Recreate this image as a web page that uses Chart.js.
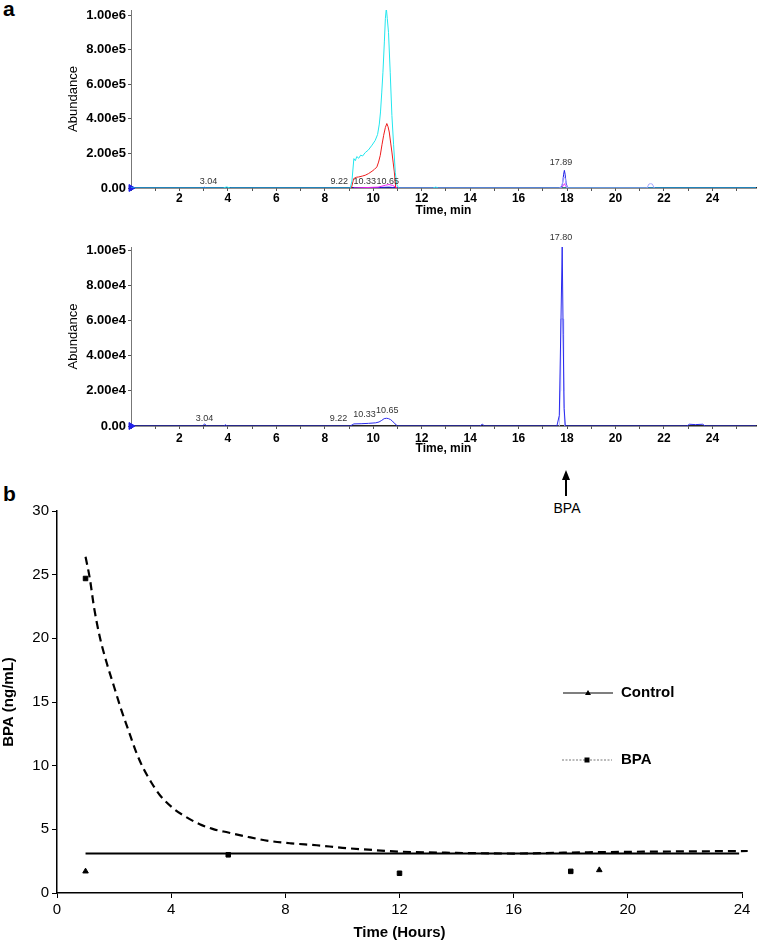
<!DOCTYPE html>
<html>
<head>
<meta charset="utf-8">
<script src="https://cdn.jsdelivr.net/npm/chart.js@4.4.1/dist/chart.umd.min.js"></script>
<style>
	body { margin: 0; background: #fff; width: 761px; height: 944px; position: relative; overflow: hidden; font-family: "Liberation Sans", Arial, sans-serif; }
	canvas { position: absolute; left: 0; }
	.panel { position: absolute; font-weight: bold; font-size: 21px; }
</style>
</head>
<body>
<div class="panel" style="left:3px; top:-3px;">a</div>
<div class="panel" style="left:3px; top:482px;">b</div>

<!-- arrow pointing at the BPA peak -->
<div style="position:absolute; left:562px; top:470px; width:0; height:0; border-left:4px solid transparent; border-right:4px solid transparent; border-bottom:10px solid #000;"></div>
<div style="position:absolute; left:565px; top:479px; width:2px; height:17px; background:#000;"></div>
<div style="position:absolute; left:538px; top:500px; width:58px; text-align:center; font-size:14px;">BPA</div>

<canvas id="chromTop" width="761" height="219" style="top:0px;"></canvas>
<canvas id="chromBottom" width="761" height="232" style="top:225px;"></canvas>
<canvas id="bpaChart" width="761" height="464" style="top:480px;"></canvas>

<script>
// ---- panel a, upper chromatogram (min / abundance) ----
const cyanTime = [0, 3.8, 3.95, 4.1, 9.05, 9.12, 9.2, 9.26, 9.32, 9.4, 9.48, 9.56, 9.67, 9.8, 9.95, 10.08, 10.18, 10.25, 10.3, 10.35, 10.4, 10.46, 10.5, 10.54, 10.58, 10.63, 10.7, 10.77, 10.84, 10.91, 10.97, 11.05, 12.45, 12.58, 12.7, 25.8];
const cyanAbund = [0, 0, 6e3, 0, 0, 4e4, 1.7e5, 1.58e5, 1.82e5, 1.72e5, 1.9e5, 1.85e5, 2.05e5, 2.2e5, 2.48e5, 2.75e5, 3.1e5, 3.7e5, 4.4e5, 5.5e5, 6.7e5, 8.5e5, 9.8e5, 1.04e6, 9.8e5, 9.0e5, 6.7e5, 4.2e5, 2.5e5, 9e4, 2e4, 0, 0, 5e3, 0, 0];

const redTime = [9.1, 9.19, 9.3, 9.4, 9.55, 9.67, 9.8, 9.95, 10.05, 10.15, 10.22, 10.29, 10.36, 10.43, 10.5, 10.56, 10.61, 10.66, 10.72, 10.77, 10.82, 10.87, 10.93];
const redAbund = [0, 5.4e4, 6.2e4, 6.4e4, 6.9e4, 7.4e4, 8.3e4, 9.7e4, 1.08e5, 1.22e5, 1.5e5, 1.89e5, 2.5e5, 3.05e5, 3.5e5, 3.73e5, 3.55e5, 3.24e5, 2.6e5, 2.08e5, 1.5e5, 9.3e4, 0];

const magentaTime = [9.2, 10.2, 10.5, 10.65, 10.8, 11.0, 17.75, 17.85, 17.89, 17.93, 18.0];
const magentaAbund = [0, 5e3, 1.6e4, 2e4, 1.5e4, 0, 0, 1.5e4, 2.5e4, 1.5e4, 0];

const lavenderTime = [17.7, 17.8, 17.84, 17.92, 17.96, 18.02, 21.3, 21.38, 21.45, 21.52, 21.6];
const lavenderAbund = [0, 2e4, 6e4, 6e4, 2e4, 0, 0, 2.3e4, 2.5e4, 2.3e4, 0];

const blueTopTime = [0, 2.95, 3.04, 3.12, 9.15, 9.22, 9.3, 10.3, 10.65, 11.0, 17.76, 17.82, 17.86, 17.89, 17.92, 17.96, 18.02, 25.8];
const blueTopAbund = [0, 0, 4e3, 0, 0, 3e3, 0, 3e3, 5e3, 0, 0, 3e4, 8e4, 1.02e5, 8e4, 3e4, 0, 0];

const topYTicks = [0, 2e5, 4e5, 6e5, 8e5, 1e6];
const topPeakText = ["3.04", "9.22", "10.33", "10.65", "17.89"];
const topPeakTime = [3.2, 8.6, 9.65, 10.6, 17.75];
const topPeakAbund = [1.3e4, 1.3e4, 1.3e4, 1.3e4, 1.2e5];

// ---- panel a, lower chromatogram ----
const blueLowTime = [0, 2.95, 3.04, 3.12, 3.85, 3.9, 3.95, 9.05, 9.2, 9.5, 9.8, 10.1, 10.24, 10.35, 10.45, 10.55, 10.63, 10.72, 10.79, 10.9, 11.0, 14.4, 14.5, 14.6, 17.58, 17.68, 17.75, 17.8, 17.84, 17.88, 17.93, 22.95, 23.05, 23.3, 23.6, 23.7, 25.8];
const blueLowAbund = [0, 0, 1.2e3, 0, 0, 8e2, 0, 0, 1.2e3, 1.3e3, 1.5e3, 1.8e3, 2.3e3, 3.2e3, 4.2e3, 4.4e3, 4.2e3, 3.6e3, 2.8e3, 1.2e3, 0, 0, 1e3, 0, 0, 6e3, 6.1e4, 1.02e5, 5.2e4, 1e4, 0, 0, 1e3, 8e2, 1e3, 0, 0];

const lightBlueTime = [17.68, 17.72, 17.74, 17.84, 17.86, 17.9];
const lightBlueAbund = [0, 2e4, 6.1e4, 6.1e4, 2e4, 0];

const lowYTicks = [0, 2e4, 4e4, 6e4, 8e4, 1e5];
const lowPeakText = ["3.04", "9.22", "10.33", "10.65", "17.80"];
const lowPeakTime = [3.03, 8.57, 9.64, 10.58, 17.75];
const lowPeakAbund = [1.5e3, 1.5e3, 4.1e3, 6.1e3, 1.05e5];

// ---- panel b ----
const bpaHours = [1, 6, 12, 18];
const bpaConc = [24.7, 3.0, 1.55, 1.7];
const controlHours = [1, 19];
const controlConc = [1.7, 1.8];
const bpaTrendHours = [1.0, 1.15, 1.3, 1.5, 1.75, 2.0, 2.25, 2.5, 2.75, 3.0, 3.3, 3.6, 4.1, 4.5, 5.0, 5.5, 6.0, 6.7, 7.4, 8.2, 9.1, 10.0, 10.9, 12, 14, 16, 18.6, 21, 24.2];
const bpaTrendConc = [26.4, 24.7, 22.4, 20.1, 18.0, 16.2, 14.4, 12.8, 11.2, 9.9, 8.7, 7.7, 6.6, 6.0, 5.4, 5.0, 4.75, 4.4, 4.1, 3.9, 3.75, 3.55, 3.4, 3.25, 3.15, 3.1, 3.2, 3.25, 3.3];
const controlTrendHours = [1, 23.9];
const controlTrendConc = [3.1, 3.1];

function toXY(xs, ys) {
	return xs.map((x, i) => ({ x: x, y: ys[i] }));
}

function trace(label, colour, xs, ys) {
	return {
		label: label,
		data: toXY(xs, ys),
		borderColor: colour,
		borderWidth: 1,
		pointRadius: 0,
		showLine: true,
		tension: 0,
	};
}

// little retention-time labels above the peaks
const peakLabels = {
	id: "peakLabels",
	afterDatasetsDraw(chart, args, opts) {
		if (!opts.text) return;
		const ctx = chart.ctx;
		ctx.save();
		ctx.font = "9px 'Liberation Sans', Arial";
		ctx.fillStyle = "#333";
		ctx.textAlign = "center";
		ctx.textBaseline = "bottom";
		opts.text.forEach((t, i) => {
			const px = chart.scales.x.getPixelForValue(opts.time[i]);
			const py = chart.scales.y.getPixelForValue(opts.abund[i]);
			ctx.fillText(t, px, py);
		});
		ctx.restore();
	},
};

function sciLabel(v) {
	if (v === 0) return "0.00";
	return v.toExponential(2).replace("e+", "e");
}

function createChromatogram(canvasElement, datasets, yMax, yTicks, labels, topPad, xAxisHeight, labelPad, titlePad) {
	return new Chart(canvasElement, {
		type: "scatter",
		data: { datasets: datasets },
		options: {
			responsive: false,
			animation: false,
			layout: { padding: { top: topPad, right: 3, left: 0, bottom: 0 } },
			plugins: {
				legend: { display: false },
				tooltip: { enabled: false },
				peakLabels: labels,
			},
			scales: {
				x: {
					type: "linear",
					min: 0,
					max: 25.8,
					afterFit: (scale) => { scale.height = xAxisHeight; },
					ticks: {
						stepSize: 1,
						autoSkip: false,
						includeBounds: false,
						maxRotation: 0,
						padding: labelPad,
						color: "#000",
						font: { family: "'Liberation Sans', Arial", size: 12, weight: "bold" },
						callback: (v) => (v > 0 && v % 2 === 0 ? v : ""),
					},
					grid: { drawOnChartArea: false, tickLength: 3, color: "#555" },
					border: { color: "#222", width: 1.5 },
					title: {
						display: true,
						text: "Time, min",
						color: "#000",
						padding: { top: 0, bottom: titlePad },
						font: { family: "'Liberation Sans', Arial", size: 12, weight: "bold" },
					},
				},
				y: {
					min: 0,
					max: yMax,
					afterFit: (scale) => { scale.width = 131; },
					afterBuildTicks: (scale) => { scale.ticks = yTicks.map((v) => ({ value: v })); },
					ticks: {
						padding: 2,
						color: "#000",
						font: { family: "'Liberation Sans', Arial", size: 13, weight: "bold" },
						callback: sciLabel,
					},
					grid: { drawOnChartArea: false, tickLength: 3, color: "#555" },
					border: { color: "#777", width: 1 },
					title: {
						display: true,
						text: "Abundance",
						color: "#000",
						padding: { top: 66, bottom: 0 },
						font: { family: "'Liberation Sans', Arial", size: 13 },
					},
				},
			},
		},
		plugins: [peakLabels],
	});
}

createChromatogram(
	document.getElementById("chromTop"),
	[
		trace("lavender", "#a9a9ff", lavenderTime, lavenderAbund),
		trace("cyan", "#22e6ee", cyanTime, cyanAbund),
		trace("red", "#ee1c1c", redTime, redAbund),
		trace("magenta", "#ee22ee", magentaTime, magentaAbund),
		trace("blue", "#1f1fe8", blueTopTime, blueTopAbund),
		{ data: [{ x: 0, y: 0 }], pointStyle: "triangle", rotation: 90, pointRadius: 4, backgroundColor: "#1f1fe8", borderColor: "#1f1fe8", clip: false },
	],
	1.03e6, topYTicks,
	{ text: topPeakText, time: topPeakTime, abund: topPeakAbund },
	10, 31, 0, 1
);

createChromatogram(
	document.getElementById("chromBottom"),
	[
		trace("blue", "#2a2aee", blueLowTime, blueLowAbund),
		trace("light blue", "#b4b8ff", lightBlueTime, lightBlueAbund),
		{ data: [{ x: 0, y: 0 }], pointStyle: "triangle", rotation: 90, pointRadius: 4, backgroundColor: "#1f1fe8", borderColor: "#1f1fe8", clip: false },
	],
	1.02e5, lowYTicks,
	{ text: lowPeakText, time: lowPeakTime, abund: lowPeakAbund },
	22, 31, 2, 1
);

// legend of panel b, drawn by hand like the original
const bpaLegend = {
	id: "bpaLegend",
	afterDraw(chart) {
		const ctx = chart.ctx;
		ctx.save();
		ctx.strokeStyle = "#000";
		ctx.fillStyle = "#000";
		ctx.lineWidth = 1.2;
		ctx.beginPath();
		ctx.moveTo(563, 213);
		ctx.lineTo(613, 213);
		ctx.stroke();
		ctx.beginPath();
		ctx.moveTo(588, 210);
		ctx.lineTo(591, 215);
		ctx.lineTo(585, 215);
		ctx.closePath();
		ctx.fill();

		ctx.strokeStyle = "#777";
		ctx.lineWidth = 1;
		ctx.setLineDash([2, 1.5]);
		ctx.beginPath();
		ctx.moveTo(562, 280);
		ctx.lineTo(612, 280);
		ctx.stroke();
		ctx.setLineDash([]);
		ctx.fillRect(584.5, 277.5, 5, 5);

		ctx.font = "bold 15px 'Liberation Sans', Arial";
		ctx.textBaseline = "middle";
		ctx.fillText("Control", 621, 213);
		ctx.fillText("BPA", 621, 280);
		ctx.restore();
	},
};

new Chart(document.getElementById("bpaChart"), {
	type: "scatter",
	data: {
		datasets: [
			{
				label: "BPA trend",
				data: toXY(bpaTrendHours, bpaTrendConc),
				showLine: true,
				borderColor: "#000",
				borderWidth: 2.2,
				borderDash: [8, 5],
				cubicInterpolationMode: "monotone",
				pointRadius: 0,
				clip: false,
			},
			{
				label: "Control trend",
				data: toXY(controlTrendHours, controlTrendConc),
				showLine: true,
				borderColor: "#000",
				borderWidth: 2,
				pointRadius: 0,
			},
			{
				label: "BPA",
				data: toXY(bpaHours, bpaConc),
				pointStyle: "rect",
				pointRadius: 3.2,
				backgroundColor: "#000",
				borderColor: "#000",
			},
			{
				label: "Control",
				data: toXY(controlHours, controlConc),
				pointStyle: "triangle",
				pointRadius: 3.2,
				backgroundColor: "#000",
				borderColor: "#000",
			},
		],
	},
	options: {
		responsive: false,
		animation: false,
		layout: { padding: { top: 31, right: 19, left: 0, bottom: 0 } },
		plugins: { legend: { display: false }, tooltip: { enabled: false } },
		scales: {
			x: {
				type: "linear",
				min: 0,
				max: 24,
				afterFit: (scale) => { scale.height = 51; },
				ticks: {
					stepSize: 4,
					maxRotation: 0,
					color: "#000",
					font: { family: "'Liberation Sans', Arial", size: 15 },
				},
				grid: { drawOnChartArea: false, tickLength: 5, color: "#000" },
				border: { color: "#000", width: 1.5 },
				title: {
					display: true,
					text: "Time (Hours)",
					color: "#000",
					padding: { top: 0, bottom: 2 },
					font: { family: "'Liberation Sans', Arial", size: 15, weight: "bold" },
				},
			},
			y: {
				min: 0,
				max: 30,
				afterFit: (scale) => { scale.width = 57; },
				ticks: {
					stepSize: 5,
					color: "#000",
					font: { family: "'Liberation Sans', Arial", size: 15 },
				},
				grid: { drawOnChartArea: false, tickLength: 5, color: "#000" },
				border: { color: "#000", width: 1.5 },
				title: {
					display: true,
					text: "BPA (ng/mL)",
					color: "#000",
					padding: { top: 0, bottom: 0 },
					font: { family: "'Liberation Sans', Arial", size: 15, weight: "bold" },
				},
			},
		},
	},
	plugins: [bpaLegend],
});
</script>
</body>
</html>
